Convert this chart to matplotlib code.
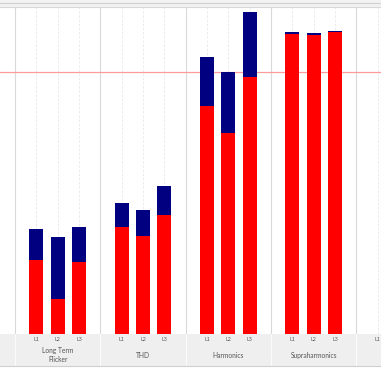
import matplotlib
matplotlib.use("Agg")
import matplotlib.pyplot as plt
from matplotlib.lines import Line2D
from matplotlib.patches import Rectangle

plt.rcParams['font.family'] = ['Lato', 'DejaVu Sans']

# 데이터 (값은 한계선 = 100 기준으로 읽음)
groups = ['Long Term\nFlicker', 'THD', 'Harmonics', 'Supraharmonics']
phases = ['L1', 'L2', 'L3']
red_vals = [
    [28.2, 13.4, 27.5],
    [40.8, 37.4, 45.4],
    [87.0, 76.7, 98.1],
    [114.5, 114.3, 115.3],
]
blue_vals = [
    [11.9, 23.6, 13.3],
    [9.2, 9.9, 11.1],
    [18.7, 23.3, 24.8],
    [0.8, 0.7, 0.4],
]
limit = 100

W, H = 381, 368
fig = plt.figure(figsize=(W / 100, H / 100), dpi=100)
fig.patch.set_facecolor('white')

top_px, base_px, band_px = 7, 334, 366
ax = fig.add_axes([0, 1 - base_px / H, 1, (base_px - top_px) / H])
band = fig.add_axes([0, 1 - band_px / H, 1, (band_px - base_px) / H])

xmin, xmax = -0.7, 17.15
for a in (ax, band):
    a.set_xlim(xmin, xmax)
    for s in a.spines.values():
        s.set_visible(False)
    a.set_yticks([])

ax.set_ylim(0, 124.8)
band.set_ylim(0, 1)
band.set_facecolor('#efefef')

tick_pos, tick_lab = [], []
for gi, g in enumerate(groups):
    start = gi * 4
    ax.axvline(start, color='#d9d9d9', lw=0.8, zorder=0)
    band.axvline(start, color='#fbfbfb', lw=0.8, zorder=0)
    for pi, p in enumerate(phases):
        x = start + pi + 1
        ax.axvline(x, color='#e8e8e8', lw=0.6, ls=(0, (3, 2)), zorder=0)
        ax.bar(x, red_vals[gi][pi], width=0.66, color='#ff0000', zorder=2)
        ax.bar(x, blue_vals[gi][pi], width=0.66, bottom=red_vals[gi][pi],
               color='#000080', zorder=2)
        tick_pos.append(x)
        tick_lab.append(p)
    band.text(start + 2, 0.34, g, ha='center', va='center', fontsize=4.8,
              color='#555555', linespacing=1.3)

# 다음 그룹 (잘림)
ax.axvline(16, color='#d9d9d9', lw=0.8, zorder=0)
band.axvline(16, color='#fbfbfb', lw=0.8, zorder=0)
ax.axvline(17, color='#e8e8e8', lw=0.6, ls=(0, (3, 2)), zorder=0)
tick_pos.append(17)
tick_lab.append('L1')

ax.axhline(limit, color='#ff9a9a', lw=0.9, zorder=1)

ax.set_xticks([])
for x, lab in zip(tick_pos, tick_lab):
    band.text(x, 0.83, lab, ha='center', va='center', fontsize=3.8, color='#555555')
band.set_xticks([])

# 위쪽 회색 띠
fig.patches.append(Rectangle((0, 1 - top_px / H), 1, top_px / H, transform=fig.transFigure,
                             facecolor='#f2f2f2', edgecolor='none'))
fig.lines.append(Line2D([0, 1], [1 - 3 / H, 1 - 3 / H], transform=fig.transFigure,
                        color='#d0d0d0', lw=0.8))
fig.lines.append(Line2D([0, 1], [1 - top_px / H, 1 - top_px / H], transform=fig.transFigure,
                        color='#d8d8d8', lw=0.8))
fig.lines.append(Line2D([0, 1], [1 - band_px / H, 1 - band_px / H], transform=fig.transFigure,
                        color='#cfcfcf', lw=0.8))

fig.savefig('out.png', dpi=100)
